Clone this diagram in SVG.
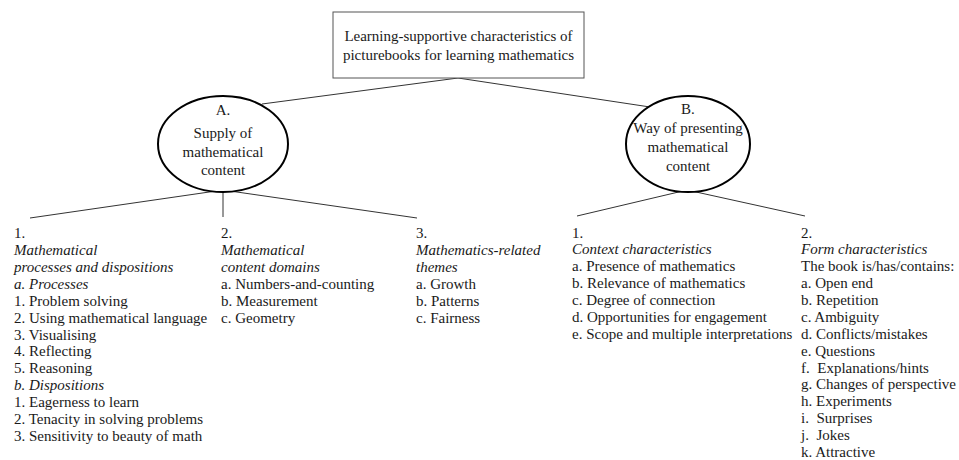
<svg xmlns="http://www.w3.org/2000/svg" width="959" height="460" viewBox="0 0 959 460">
<style>
text{font-family:"Liberation Serif","Times New Roman",serif;font-size:15px;fill:#1a1a1a;white-space:pre}
.c{text-anchor:middle}
.i{font-style:italic}
.ln{stroke:#333;stroke-width:1;fill:none}
.ell{fill:#fff;stroke:#000;stroke-width:2}
.box{fill:#fff;stroke:#555;stroke-width:1}
</style>
<rect width="959" height="460" fill="#fff"/>
<g id="connectors">
<path class="ln" d="M458,78 L262,104"/>
<path class="ln" d="M458,78 L650,107"/>
<path class="ln" d="M223,190 L30,218"/>
<path class="ln" d="M223,190 L223,217"/>
<path class="ln" d="M223,190 L417,218"/>
<path class="ln" d="M687,190 L577,216"/>
<path class="ln" d="M687,190 L805,216"/>
</g>
<g id="root">
<rect class="box" x="333" y="12" width="251" height="66"/>
<text class="c" x="458.5" y="41">Learning-supportive characteristics of</text>
<text class="c" x="458.5" y="60">picturebooks for learning mathematics</text>
</g>
<g id="nodeA">
<ellipse class="ell" cx="223" cy="144" rx="65" ry="48"/>
<text class="c" x="223" y="115">A.</text>
<text class="c" x="223" y="138">Supply of</text>
<text class="c" x="223" y="157">mathematical</text>
<text class="c" x="223" y="175">content</text>
</g>
<g id="nodeB">
<ellipse class="ell" cx="688" cy="144" rx="62" ry="48"/>
<text class="c" x="688" y="114">B.</text>
<text class="c" x="688" y="133">Way of presenting</text>
<text class="c" x="688" y="152">mathematical</text>
<text class="c" x="688" y="171">content</text>
</g>
<g id="A1">
<text x="14" y="238">1.</text>
<text class="i" x="14" y="255">Mathematical</text>
<text class="i" x="14" y="272">processes and dispositions</text>
<text class="i" x="14" y="289">a. Processes</text>
<text x="14" y="306">1. Problem solving</text>
<text x="14" y="323">2. Using mathematical language</text>
<text x="14" y="340">3. Visualising</text>
<text x="14" y="356">4. Reflecting</text>
<text x="14" y="373">5. Reasoning</text>
<text class="i" x="14" y="390">b. Dispositions</text>
<text x="14" y="407">1. Eagerness to learn</text>
<text x="14" y="424">2. Tenacity in solving problems</text>
<text x="14" y="441">3. Sensitivity to beauty of math</text>
</g>
<g id="A2">
<text x="221" y="238">2.</text>
<text class="i" x="221" y="255">Mathematical</text>
<text class="i" x="221" y="272">content domains</text>
<text x="221" y="289">a. Numbers-and-counting</text>
<text x="221" y="306">b. Measurement</text>
<text x="221" y="323">c. Geometry</text>
</g>
<g id="A3">
<text x="416" y="238">3.</text>
<text class="i" x="416" y="255">Mathematics-related</text>
<text class="i" x="416" y="272">themes</text>
<text x="416" y="289">a. Growth</text>
<text x="416" y="306">b. Patterns</text>
<text x="416" y="323">c. Fairness</text>
</g>
<g id="B1">
<text x="572" y="238">1.</text>
<text class="i" x="572" y="254">Context characteristics</text>
<text x="572" y="271">a. Presence of mathematics</text>
<text x="572" y="288">b. Relevance of mathematics</text>
<text x="572" y="305">c. Degree of connection</text>
<text x="572" y="322">d. Opportunities for engagement</text>
<text x="572" y="339">e. Scope and multiple interpretations</text>
</g>
<g id="B2">
<text x="801" y="238">2.</text>
<text class="i" x="801" y="254">Form characteristics</text>
<text x="801" y="271">The book is/has/contains:</text>
<text x="801" y="288">a. Open end</text>
<text x="801" y="305">b. Repetition</text>
<text x="801" y="322">c. Ambiguity</text>
<text x="801" y="339">d. Conflicts/mistakes</text>
<text x="801" y="356">e. Questions</text>
<text x="801" y="373">f.  Explanations/hints</text>
<text x="801" y="389">g. Changes of perspective</text>
<text x="801" y="406">h. Experiments</text>
<text x="801" y="423">i.  Surprises</text>
<text x="801" y="440">j.  Jokes</text>
<text x="801" y="457">k. Attractive</text>
</g>
</svg>
